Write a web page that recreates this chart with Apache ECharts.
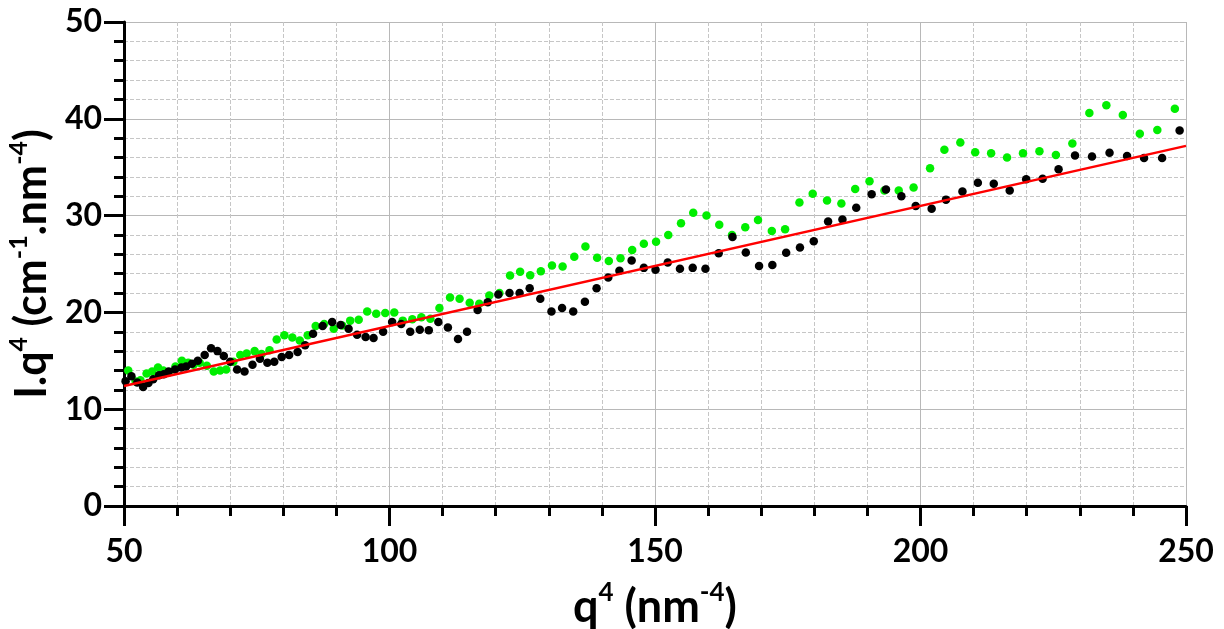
<!DOCTYPE html>
<html>
<head>
<meta charset="utf-8">
<script src="https://cdn.jsdelivr.net/npm/echarts@6/dist/echarts.min.js"></script>
<style>
  html, body { margin: 0; padding: 0; background: #fff; }
  #chart { width: 1224px; height: 629px; }
</style>
</head>
<body>
<div id="chart"></div>
<script>
// Sample 1 (black dots): q^4 (nm^-4) and I.q^4 (cm^-1.nm^-4)
const blackX = [
  50.3, 51.4, 52.5, 53.6, 54.6, 55.5, 56.6, 57.5, 58.4, 59.6, 60.8, 61.7, 62.8, 63.9, 65.2, 66.4,
  67.6, 68.8, 70.0, 71.3, 72.7, 74.2, 75.6, 77.0, 78.3, 79.7, 81.1, 82.7, 84.1, 85.6, 87.4,
  89.2, 90.8, 92.3, 93.9, 95.5, 97.0, 98.8, 100.5, 102.2, 103.9, 105.7, 107.4, 109.2, 111.0,
  112.9, 114.6, 116.6, 118.5, 120.5, 122.6, 124.5, 126.4, 128.4, 130.5, 132.5, 134.6, 136.8,
  139.0, 141.2, 143.3, 145.6, 147.9, 150.1, 152.4, 154.7, 157.1, 159.5, 162.0, 164.6, 167.1,
  169.6, 172.1, 174.7, 177.3, 179.9, 182.6, 185.3, 187.9, 190.8, 193.5, 196.4, 199.1, 202.1,
  204.8, 207.9, 210.8, 213.8, 216.8, 219.9, 223.0, 226.0, 229.1, 232.3, 235.6, 238.9, 242.1,
  245.5, 248.8
];
const blackY = [
  12.9, 13.4, 12.75, 12.3, 12.7, 13.1, 13.5, 13.6, 13.9, 14.1, 14.3, 14.4, 14.7, 15.0, 15.6, 16.3,
  16.0, 15.5, 14.9, 14.1, 13.9, 14.6, 15.2, 14.8, 14.9, 15.4, 15.6, 15.9, 16.6, 17.8, 18.6,
  19.0, 18.7, 18.3, 17.7, 17.45, 17.35, 18.0, 19.0, 18.8, 18.0, 18.2, 18.15, 19.0, 18.45,
  17.25, 18.0, 20.25, 21.05, 21.85, 22.0, 22.0, 22.5, 21.4, 20.1, 20.45, 20.1, 21.1,
  22.5, 23.6, 24.3, 25.35, 24.6, 24.4, 25.15, 24.5, 24.6, 24.5, 26.1, 27.8, 26.2,
  24.8, 24.9, 26.15, 26.7, 27.35, 29.4, 29.6, 30.8, 32.2, 32.7, 32.0, 31.0, 30.7,
  31.65, 32.5, 33.4, 33.3, 32.6, 33.75, 33.8, 34.8, 36.2, 36.1, 36.5, 36.15, 35.95,
  35.95, 38.8
];

// Sample 2 (green dots)
const greenX = [
  50.8, 52.2, 53.1, 54.25, 55.3, 56.4, 57.4, 58.4, 59.7, 60.9, 62.1, 63.1, 64.25, 65.6, 66.9,
  68.1, 69.25, 70.6, 71.9, 73.1, 74.6, 75.9, 77.4, 78.75, 80.2, 81.7, 83.1, 84.6, 86.1, 87.7,
  89.5, 91.1, 92.6, 94.2, 95.8, 97.5, 99.2, 100.9, 102.5, 104.3, 106.0, 107.7, 109.4, 111.4,
  113.2, 115.1, 116.9, 118.8, 120.7, 122.7, 124.6, 126.5, 128.5, 130.6, 132.6, 134.8, 136.9,
  139.1, 141.3, 143.5, 145.7, 147.9, 150.2, 152.5, 154.9, 157.2, 159.7, 162.1, 164.5, 167.0,
  169.4, 172.0, 174.5, 177.2, 179.7, 182.4, 185.1, 187.7, 190.4, 193.2, 195.9, 198.7, 201.8,
  204.5, 207.5, 210.3, 213.3, 216.3, 219.3, 222.4, 225.5, 228.6, 231.8, 235.0, 238.1, 241.3,
  244.6, 247.9
];
const greenY = [
  14.0, 12.85, 13.0, 13.7, 13.9, 14.3, 14.0, 13.8, 14.4, 15.0, 14.8, 14.6, 14.8, 14.5, 13.9,
  14.0, 14.1, 14.9, 15.6, 15.75, 16.0, 15.7, 16.1, 17.2, 17.65, 17.4, 17.1, 17.65, 18.6, 18.8,
  18.3, 18.65, 19.15, 19.25, 20.1, 19.85, 19.95, 20.0, 19.15, 19.3, 19.5, 19.35, 20.45, 21.55,
  21.4, 21.0, 20.9, 21.75, 22.0, 23.8, 24.2, 23.85, 24.25, 24.85, 24.75, 25.75, 26.8,
  25.65, 25.3, 25.6, 26.45, 27.1, 27.3, 28.0, 29.2, 30.3, 30.0, 29.05, 28.0, 28.8,
  29.55, 28.4, 28.6, 31.35, 32.25, 31.55, 31.25, 32.75, 33.55, 32.6, 32.6, 32.9, 34.9,
  36.8, 37.55, 36.55, 36.45, 36.0, 36.45, 36.65, 36.25, 37.45, 40.6, 41.4, 40.4, 38.45,
  38.85, 41.05
];

// Linear fit end points
const fitX = [50, 250];
const fitY = [12.4, 37.2];

const zip = (xs, ys) => xs.map((x, i) => [x, ys[i]]);

const FONT = 'Lato';
const labelStyle = { fontFamily: FONT, fontWeight: 'bold', fontSize: 32, color: '#000' };

function nameRich(size, supSize) {
  return {
    b: { fontFamily: FONT, fontWeight: 'bold', fontSize: size, color: '#000', lineHeight: Math.round(size * 1.2) },
    s: { fontFamily: FONT, fontWeight: 'bold', fontSize: supSize, color: '#000', lineHeight: Math.round(supSize * 1.15), verticalAlign: 'top' }
  };
}

function axisCommon() {
  return {
    axisLine: { show: true, onZero: false, lineStyle: { color: '#000', width: 3 } },
    axisTick: { show: true, inside: false, length: 20, lineStyle: { color: '#000', width: 3 } },
    minorTick: { show: true, splitNumber: 5, length: 10, lineStyle: { color: '#000', width: 3 } },
    splitLine: { show: true, lineStyle: { color: '#b8b8b8', width: 1 } },
    minorSplitLine: { show: true, lineStyle: { color: '#c6c6c6', width: 1, type: 'dashed' } }
  };
}

const chart = echarts.init(document.getElementById('chart'), null, { renderer: 'canvas' });
chart.setOption({
  animation: false,
  backgroundColor: '#fff',
  grid: { left: 124, right: 38, top: 22, bottom: 123, containLabel: false, outerBoundsMode: 'none' },
  xAxis: Object.assign(axisCommon(), {
    type: 'value', min: 50, max: 250, interval: 50,
    axisLabel: Object.assign({ margin: 30 }, labelStyle),
    name: '{b|q}{s|4}{b| (nm}{s|-4}{b|)}',
    nameLocation: 'middle', nameGap: 74,
    nameTextStyle: { rich: nameRich(45, 26) }
  }),
  yAxis: Object.assign(axisCommon(), {
    type: 'value', min: 0, max: 50, interval: 10,
    axisLabel: Object.assign({ margin: 22 }, labelStyle),
    name: '{b|I.q}{s|4}{b| (cm}{s|-1}{b|.nm}{s|-4}{b|)}',
    nameLocation: 'middle', nameGap: 64, nameRotate: 90,
    nameTextStyle: { rich: nameRich(43, 25) }
  }),
  series: [
    {
      type: 'scatter', name: 'green', data: zip(greenX, greenY),
      symbol: 'circle', symbolSize: 8.5,
      itemStyle: { color: '#00ee00', opacity: 1 }, z: 2
    },
    {
      type: 'scatter', name: 'black', data: zip(blackX, blackY),
      symbol: 'circle', symbolSize: 8.5,
      itemStyle: { color: '#000', opacity: 1 }, z: 3
    },
    {
      type: 'line', name: 'fit', data: zip(fitX, fitY),
      symbol: 'none', lineStyle: { color: '#ff0000', width: 2.5 }, z: 4
    }
  ]
});
</script>
</body>
</html>
